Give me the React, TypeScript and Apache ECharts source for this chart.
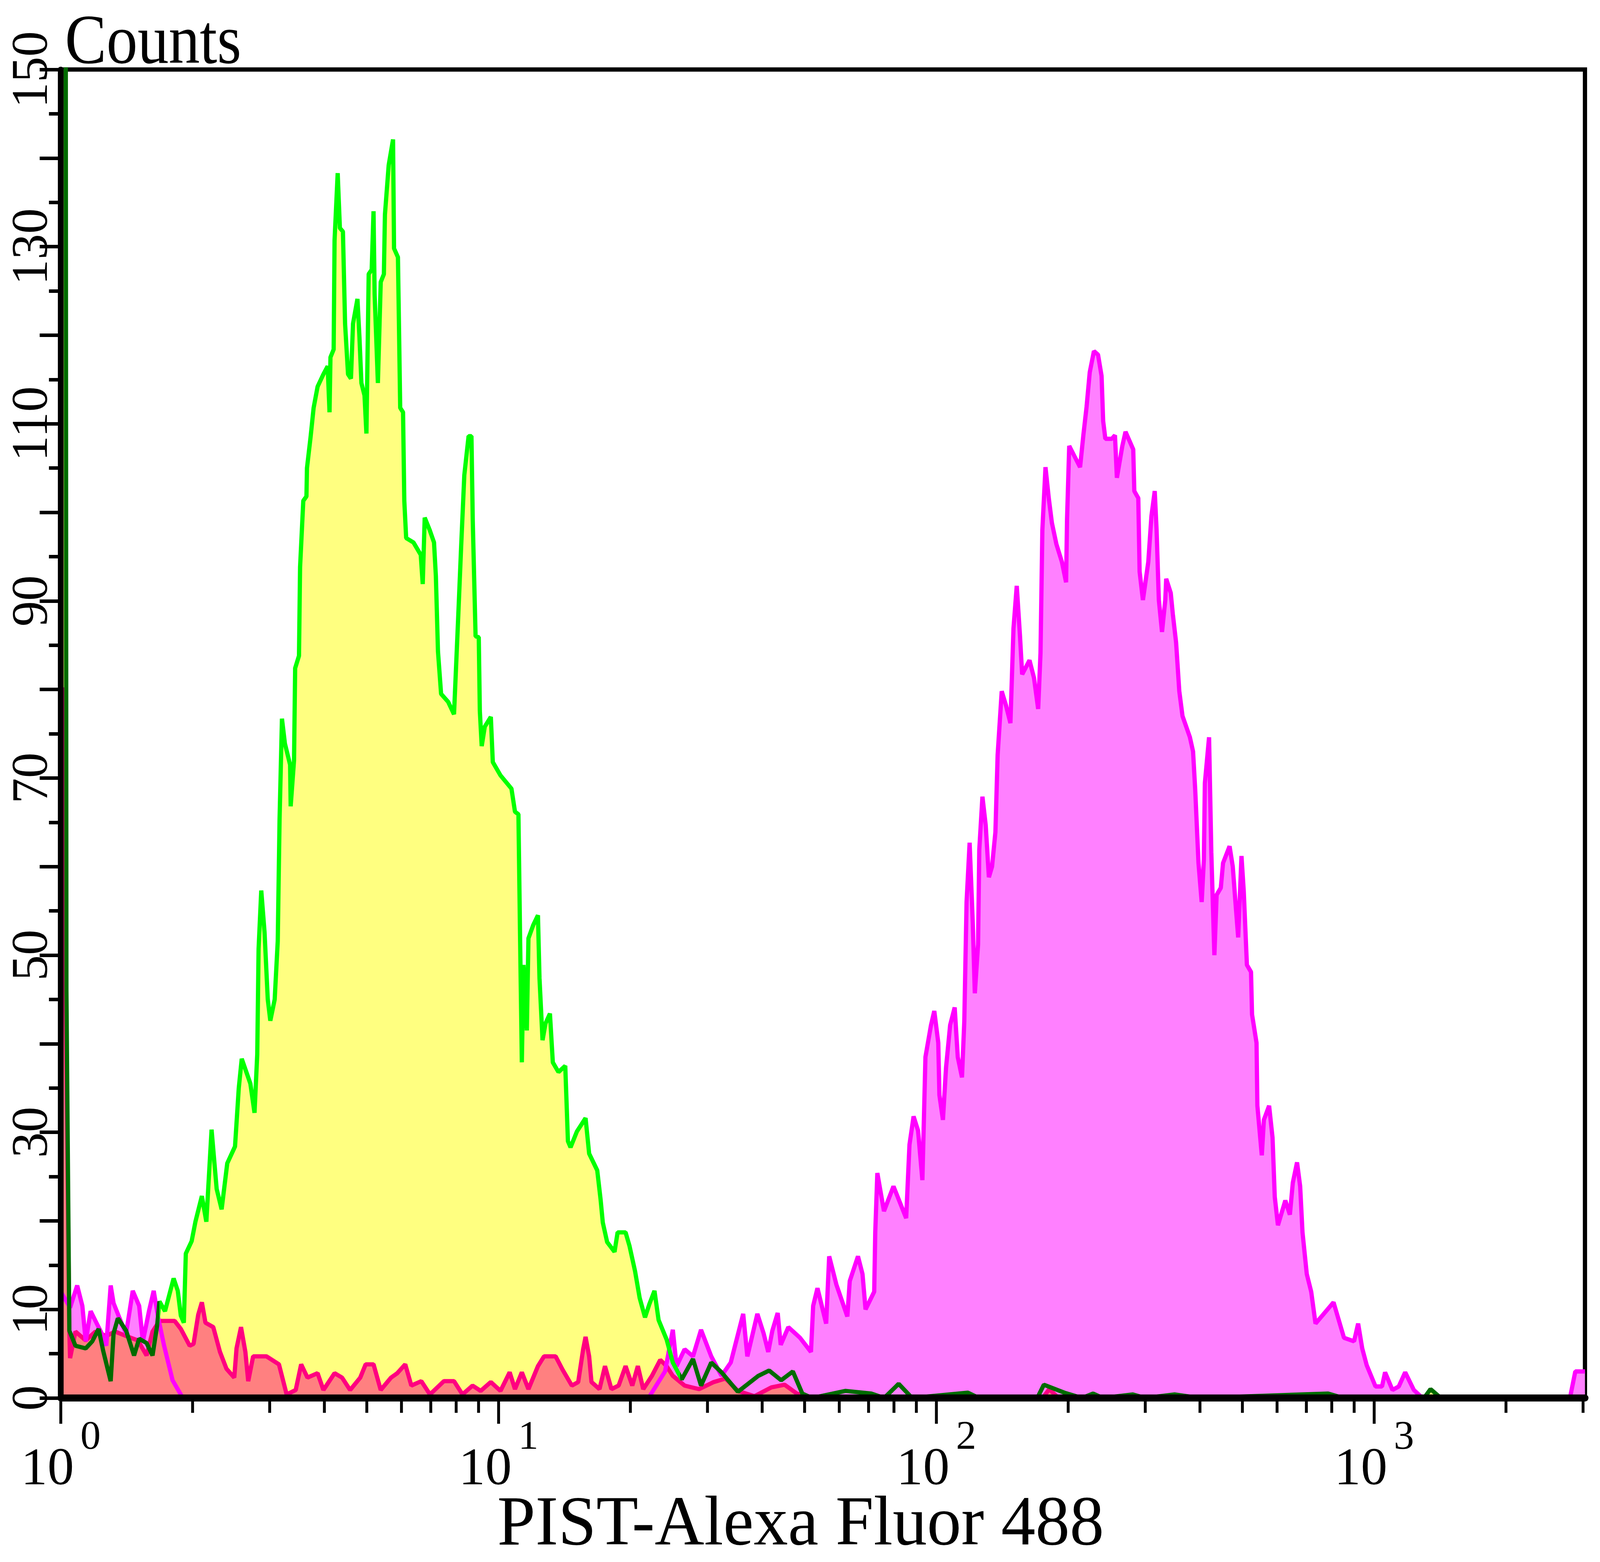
// Flow cytometry overlay histogram (PIST-Alexa Fluor 488) drawn with ECharts

import { useEffect, useRef } from 'react';
import * as echarts from 'echarts';

const FONT = '"Liberation Serif", "Times New Roman", serif';

// x tick marks on the log axis
const majorTicks = [1, 10, 100, 1000];
const minorTicks = [2, 3, 4, 5, 6, 7, 8, 9, 20, 30, 40, 50, 60, 70, 80, 90, 200, 300, 400, 500, 600, 700, 800, 900, 2000, 3000];

// y labels that are shown (the others keep their tick only)
const yLabels = [0, 10, 30, 50, 70, 90, 110, 130, 150];

// isotype control (yellow fill, green outline)
const isotypeCounts: [number, number][] = [
    [1.0, 170], [1.026, 170], [1.03, 46], [1.046, 7.6], [1.08, 5.9], [1.14, 5.6], [1.18, 6.4], [1.22, 7.8], [1.25, 5.3],
    [1.3, 1.9], [1.32, 7.3], [1.35, 9], [1.41, 7.6], [1.47, 4.8], [1.51, 6.7], [1.57, 6.2], [1.62, 4.8],
    [1.66, 8.2], [1.68, 10.9], [1.73, 9.8], [1.81, 13.5], [1.85, 12.1], [1.88, 9.3], [1.91, 8.5], [1.93, 16.3],
    [1.99, 17.7], [2.03, 19.9], [2.1, 22.8], [2.15, 19.9], [2.21, 30.3], [2.27, 23.6], [2.33, 21.3], [2.4, 26.5],
    [2.5, 28.4], [2.55, 35], [2.59, 38.3], [2.71, 35.5], [2.77, 32.2], [2.81, 38.8], [2.83, 50.7], [2.87, 57.3],
    [2.92, 52.6], [2.97, 45], [3.01, 42.6], [3.08, 45], [3.13, 51.6], [3.16, 65.3], [3.2, 76.7], [3.25, 73.9],
    [3.34, 71.5], [3.35, 66.8], [3.41, 72], [3.43, 82.4], [3.5, 83.8], [3.52, 93.8], [3.58, 101.3], [3.64, 101.8],
    [3.65, 105], [3.72, 108.5], [3.78, 111.8], [3.86, 114.2], [3.98, 115.6], [4.07, 116.5], [4.11, 111.3], [4.13, 117.5],
    [4.2, 118.4], [4.22, 130.7], [4.29, 138.3], [4.34, 132.1], [4.41, 131.7], [4.46, 121.3], [4.53, 115.6], [4.6, 115.1],
    [4.65, 121.3], [4.76, 124.1], [4.81, 119.8], [4.86, 114.6], [4.94, 113.2], [4.99, 108.9], [5.05, 126.9], [5.13, 127.4],
    [5.18, 134], [5.21, 124.6], [5.3, 114.6], [5.38, 126], [5.47, 126.9], [5.5, 133.6], [5.61, 139.2], [5.74, 142.1],
    [5.77, 129.8], [5.89, 128.8], [5.96, 111.8], [6.05, 111.3], [6.09, 101.3], [6.15, 97.1], [6.39, 96.6], [6.64, 95.2],
    [6.71, 91.9], [6.78, 99.4], [6.96, 98], [7.12, 96.6], [7.19, 92.8], [7.27, 84.3], [7.39, 79.5], [7.67, 78.6],
    [7.91, 77.2], [8.09, 88.4], [8.21, 96], [8.35, 104.2], [8.54, 108.6], [8.67, 108.6], [8.73, 99], [8.86, 86],
    [9.01, 85.9], [9.06, 77.6], [9.15, 73.6], [9.3, 75.8], [9.6, 76.9], [9.7, 71.8], [10.1, 70.3], [10.7, 68.8],
    [10.9, 66.2], [11.1, 65.9], [11.2, 51.5], [11.3, 37.9], [11.4, 48.9], [11.6, 41.5], [11.7, 51.9], [12.0, 53.4],
    [12.3, 54.5], [12.4, 47.4], [12.6, 40.4], [12.8, 42.3], [13.1, 43.4], [13.3, 37.9], [13.7, 36.8], [14.2, 37.5],
    [14.4, 29], [14.6, 28.3], [15.1, 30.1], [15.8, 31.6], [16.1, 27.6], [16.8, 25.7], [17.1, 22.4], [17.3, 19.8],
    [17.7, 17.6], [18.4, 16.5], [18.7, 18.7], [19.5, 18.7], [19.9, 17.2], [20.5, 14.3], [21.0, 11.3], [21.6, 9.1],
    [22.1, 10.6], [22.7, 12.1], [23.2, 8.8], [24.2, 6.6], [25.0, 4], [26.2, 2.1], [27.8, 4.4], [29.0, 1.4],
    [30.6, 4], [32.3, 2.9], [35.2, 0.7], [39.2, 2.5], [41.5, 3.1], [44.2, 2], [47, 3], [49.4, 0.5],
    [52, 0], [62, 0.8], [71, 0.5], [76, 0], [82, 1.6], [88, 0], [118, 0.6], [125, 0],
    [170, 0], [176, 1.5], [196, 0.6], [215, 0], [228, 0.5], [240, 0], [281, 0.4], [300, 0],
    [350, 0.4], [400, 0], [785, 0.5], [850, 0], [1300, 0], [1345, 1], [1420, 0], [3030, 0],
];

// unlabelled cells (salmon fill, crimson outline)
const blankCounts: [number, number][] = [
    [1.0, 80], [1.02, 80], [1.025, 47], [1.046, 7.6], [1.05, 4.5], [1.08, 7.5], [1.14, 6.5], [1.2, 7.5], [1.27, 7],
    [1.33, 7.5], [1.41, 7], [1.5, 6.5], [1.57, 4.8], [1.62, 7.5], [1.68, 8.7], [1.76, 8.7], [1.82, 8.7],
    [1.88, 7.8], [1.97, 5.9], [2.01, 6.1], [2.06, 9.4], [2.1, 10.8], [2.14, 8.5], [2.23, 8], [2.31, 5.2],
    [2.39, 3.3], [2.49, 2.3], [2.52, 5.6], [2.58, 8], [2.64, 5.2], [2.68, 1.9], [2.75, 4.7], [2.95, 4.7],
    [3.15, 3.8], [3.28, 0.4], [3.44, 0.9], [3.54, 3.8], [3.66, 2.3], [3.86, 2.8], [3.98, 0.9], [4.22, 2.8],
    [4.39, 2.3], [4.58, 0.9], [4.83, 2.3], [4.97, 3.8], [5.18, 3.8], [5.38, 0.9], [5.68, 2.3], [5.87, 2.8],
    [6.12, 3.8], [6.32, 1.4], [6.66, 1.9], [6.97, 0.4], [7.5, 1.9], [7.91, 1.9], [8.27, 0.4], [8.72, 1.4],
    [9.1, 0.8], [9.6, 1.8], [10.1, 0.8], [10.6, 2.9], [10.9, 1], [11.3, 2.9], [11.7, 1], [12.3, 3.6],
    [12.7, 4.7], [13.5, 4.7], [14.0, 3.2], [14.7, 1.4], [15.2, 1.8], [15.6, 5.5], [15.8, 6.9], [16.1, 4.7],
    [16.3, 1.8], [17.0, 1], [17.5, 3.6], [18.1, 1], [18.8, 1.4], [19.5, 3.6], [20.2, 1.4], [20.8, 3.6],
    [21.4, 1], [22.4, 2.5], [23.4, 4.3], [24.2, 3.6], [25.0, 2.5], [26.6, 1.4], [28.7, 1], [31.0, 1.8],
    [33.0, 2.2], [35.2, 0.8], [38.4, 0.2], [42, 1.2], [45, 1.5], [48, 0.5], [52, 0], [175, 0],
    [181, 1], [190, 0], [3030, 0],
];

// PIST antibody (magenta)
const pistCounts: [number, number][] = [
    [1.0, 12], [1.05, 10.2], [1.09, 12.7], [1.12, 10.4], [1.14, 6.4], [1.17, 9.8], [1.2, 8.7], [1.24, 7.3],
    [1.27, 5.9], [1.3, 12.7], [1.32, 10.7], [1.37, 8.7], [1.41, 7.3], [1.46, 12.1], [1.51, 10.4], [1.54, 6.4],
    [1.59, 9.8], [1.63, 12.1], [1.67, 9], [1.72, 6], [1.8, 2], [1.9, 0], [22, 0], [24, 3],
    [25.0, 7.7], [25.5, 3.6], [26.6, 5.5], [27.8, 4.7], [29.0, 7.7], [30.6, 4.7], [32.3, 2.5], [33.9, 4],
    [36.2, 9.5], [37.0, 4.7], [39.0, 9.5], [40.3, 7.3], [41.3, 5.2], [42.2, 7.6], [43.4, 9.6], [44.1, 6],
    [45.9, 8], [48.8, 6.8], [51.7, 5.2], [52.3, 10.4], [53.5, 12.4], [56, 8.4], [56.9, 16], [59.1, 12.8],
    [62.6, 9.2], [63.4, 13.2], [66.2, 16], [67.8, 14], [68.9, 10], [72.1, 12], [72.5, 18.7], [73.3, 25.4],
    [75.9, 21.1], [79.8, 23.9], [85.3, 20.3], [86.8, 28.6], [88.7, 31.8], [90.8, 30.2], [92.9, 24.6], [94.4, 38.5],
    [97.2, 42.1], [98.9, 43.7], [101, 40.1], [101.6, 34.2], [103.5, 31.4], [105.2, 37.3], [107.5, 42.1], [110.1, 44.1],
    [111.9, 38.5], [114.4, 36.2], [115.8, 42.5], [117.2, 56], [119.1, 62.7], [121.1, 53.6], [122.4, 45.7], [124.5, 51.2],
    [125.3, 61.9], [127.4, 67.9], [129.6, 64.7], [131.8, 58.8], [134, 60], [136.4, 63.9], [138, 72.6], [141, 79.8],
    [144.2, 78.2], [147.6, 76.2], [150, 86.9], [152.6, 91.7], [155.2, 86.1], [157, 81.7], [163.2, 83.3], [167.1, 81.3],
    [170.8, 77.8], [172.9, 84.1], [174.6, 98], [177.5, 105.1], [180.6, 101.6], [183.6, 98.8], [188, 96.4], [193.5, 94.4],
    [197.8, 92.1], [198.8, 99.2], [201.1, 107.5], [206.9, 106.3], [212.9, 105.1], [216.6, 108.7], [220.3, 111.9], [224, 115.8],
    [229, 118.2], [234, 117.8], [238.4, 115.4], [240.4, 110.3], [243.2, 108.3], [251.6, 108.3], [255.8, 108.7], [258.4, 103.9],
    [265.9, 107.5], [270.4, 109.1], [281.6, 107.1], [283.2, 102.4], [289.2, 101.6], [291.2, 93.3], [296.3, 90.1], [304.8, 94.4],
    [309.9, 99.6], [315.3, 102.4], [318.4, 98], [322.2, 90.1], [327.6, 86.5], [333.3, 90.1], [334.9, 92.5], [343, 90.9],
    [346.8, 88.5], [352.8, 85.3], [358.8, 79.8], [364.9, 77], [379.4, 74.6], [385.7, 73], [390.1, 68.7], [396.9, 60.4],
    [403.6, 56], [408.3, 60.8], [410.4, 69.4], [419.6, 74.6], [424.6, 61.6], [431.5, 50], [436.6, 56.8], [446.3, 57.6],
    [451.6, 60.4], [467.4, 62.3], [475.3, 60], [483.4, 55.2], [489.1, 52], [497.6, 61.2], [503.6, 57.2], [512, 48.9],
    [523.2, 48.1], [526, 43.3], [538.6, 40.1], [541, 33], [553.7, 27.4], [559.8, 31.4], [575.4, 33], [585.9, 29.4],
    [592.8, 22.7], [602.8, 19.5], [626.6, 22.3], [641.8, 20.7], [651.8, 24.3], [666.5, 26.6], [677.5, 23.9], [685.9, 18.7],
    [701.5, 14], [718, 12], [734.5, 8.4], [807.5, 10.8], [853.1, 6.8], [899.5, 6.4], [919, 8.4], [939, 5.6],
    [961.5, 3.7], [1007, 1.3], [1042, 1.3], [1059, 2.9], [1101, 0.9], [1138, 1.3], [1177, 2.9], [1232, 0.9],
    [1289, 0], [2800, 0], [2880, 3], [3030, 3],
];

function fillSeries(data: [number, number][], color: string) {
    return {
        type: 'line',
        data,
        showSymbol: false,
        silent: true,
        lineStyle: { width: 0 },
        areaStyle: { color, opacity: 1 },
    };
}

function lineSeries(data: [number, number][], width: number, color?: string) {
    return {
        type: 'line',
        data,
        showSymbol: false,
        silent: true,
        // no explicit colour: the visualMap gradient is used instead
        lineStyle: color ? { width, color } : { width },
    };
}

function tickSeries(values: number[], len: number, width: number) {
    return {
        type: 'custom',
        clip: false,
        silent: true,
        z: 10,
        data: values.map((v) => [v, 0]),
        renderItem: (_params: any, api: any) => {
            const p = api.coord([api.value(0), 0]);
            return {
                type: 'line',
                shape: { x1: p[0], y1: p[1], x2: p[0], y2: p[1] + len },
                style: { stroke: '#000', lineWidth: width },
            };
        },
    };
}

// kx / ky stretch the layout, which was measured on a 5000 x 4000 canvas, over the window
function buildOption(kx: number, ky: number): any {
    const sx = (n: number) => n * kx;
    const sy = (n: number) => n * ky;
    const f = Math.sqrt(kx * ky);

    // rotated y labels: keep the glyphs inside the left edge
    const yFont = 145 * f;
    const yLine = 120 * f;
    const yCenter = Math.max(82 * kx, 0.5535 * yFont + 3);
    const yMargin = 190 * kx - yCenter - yLine / 2;

    return {
        animation: false,
        backgroundColor: '#fff',
        grid: {
            left: sx(190),
            right: sx(47),
            top: sy(178),
            bottom: sy(420),
            show: true,
            borderColor: '#000',
            borderWidth: 12 * f,
            backgroundColor: 'transparent',
        },
        xAxis: {
            type: 'log',
            logBase: 10,
            min: 1,
            max: 3030,
            z: 5,
            axisLine: { show: true, onZero: false, lineStyle: { color: '#000', width: sy(18) } },
            axisTick: { show: false },
            splitLine: { show: false },
            minorTick: { show: false },
            axisLabel: {
                show: true,
                showMaxLabel: false,
                margin: sy(43),
                color: '#000',
                fontFamily: FONT,
                fontSize: 150 * f,
                formatter: (v: number) => {
                    const e = Math.log10(v);
                    if (Math.abs(e - Math.round(e)) > 0.01) return '';
                    return `{b|10}{s|${Math.round(e)}}`;
                },
                rich: {
                    b: { fontSize: 150 * f, fontFamily: FONT, color: '#000', lineHeight: sy(200), verticalAlign: 'bottom' },
                    s: {
                        fontSize: 115 * f,
                        fontFamily: FONT,
                        color: '#000',
                        lineHeight: sy(90),
                        verticalAlign: 'top',
                        padding: [0, 0, 0, sx(20)],
                    },
                },
            },
        },
        yAxis: {
            type: 'value',
            min: 0,
            max: 150,
            interval: 10,
            z: 5,
            axisLine: { show: true, onZero: false, lineStyle: { color: '#000', width: sx(18) } },
            axisTick: { show: true, length: sx(66), lineStyle: { color: '#000', width: sy(9) } },
            minorTick: { show: true, splitNumber: 2, length: sx(37), lineStyle: { color: '#000', width: sy(9) } },
            splitLine: { show: false },
            axisLabel: {
                rotate: 90,
                margin: yMargin,
                color: '#000',
                fontFamily: FONT,
                fontSize: yFont,
                lineHeight: yLine,
                formatter: (v: number) => (yLabels.includes(v) ? String(v) : ''),
            },
        },
        visualMap: {
            show: false,
            type: 'piecewise',
            seriesIndex: 5,
            dimension: 0,
            pieces: [
                { lt: 1.68, color: '#006b00' },
                { gte: 1.68, lt: 26, color: '#00ff00' },
                { gte: 26, color: '#006b00' },
            ],
        },
        graphic: [
            {
                type: 'text',
                x: sx(203),
                y: sy(101),
                scaleX: (1.08 * kx) / ky,
                style: {
                    text: 'Counts',
                    fill: '#000',
                    font: `${sy(180)}px ${FONT}`,
                    textAlign: 'left',
                    textVerticalAlign: 'middle',
                },
            },
            {
                type: 'text',
                x: sx(2502),
                y: sy(3894),
                scaleX: (1.19 * kx) / ky,
                style: {
                    text: 'PIST-Alexa Fluor 488',
                    fill: '#000',
                    font: `${sy(180)}px ${FONT}`,
                    textAlign: 'center',
                    textVerticalAlign: 'middle',
                },
            },
        ],
        series: [
            fillSeries(isotypeCounts, '#ffff80'),
            fillSeries(pistCounts, '#ff80ff'),
            fillSeries(blankCounts, '#ff8080'),
            lineSeries(blankCounts, 12 * f, '#ff0080'),
            lineSeries(pistCounts, 12 * f, '#ff00ff'),
            lineSeries(isotypeCounts, 12 * f),
            tickSeries(majorTicks, sy(66), sx(9)),
            tickSeries(minorTicks, sy(38), sx(9)),
        ],
    };
}

export default function App() {
    const chartRef = useRef<HTMLDivElement>(null);

    useEffect(() => {
        const el = chartRef.current;
        if (!el) return;
        document.body.style.margin = '0';
        document.body.style.overflow = 'hidden';

        // the chart fills the visible window
        const w = window.innerWidth || 5000;
        const h = window.innerHeight || 4000;
        el.style.width = `${w}px`;
        el.style.height = `${h}px`;

        const chart = echarts.init(el, undefined, { renderer: 'svg' });
        chart.setOption(buildOption(w / 5000, h / 4000), { notMerge: true });

        return () => {
            chart.dispose();
        };
    }, []);

    return <div ref={chartRef} style={{ width: '5000px', height: '4000px' }} />;
}
